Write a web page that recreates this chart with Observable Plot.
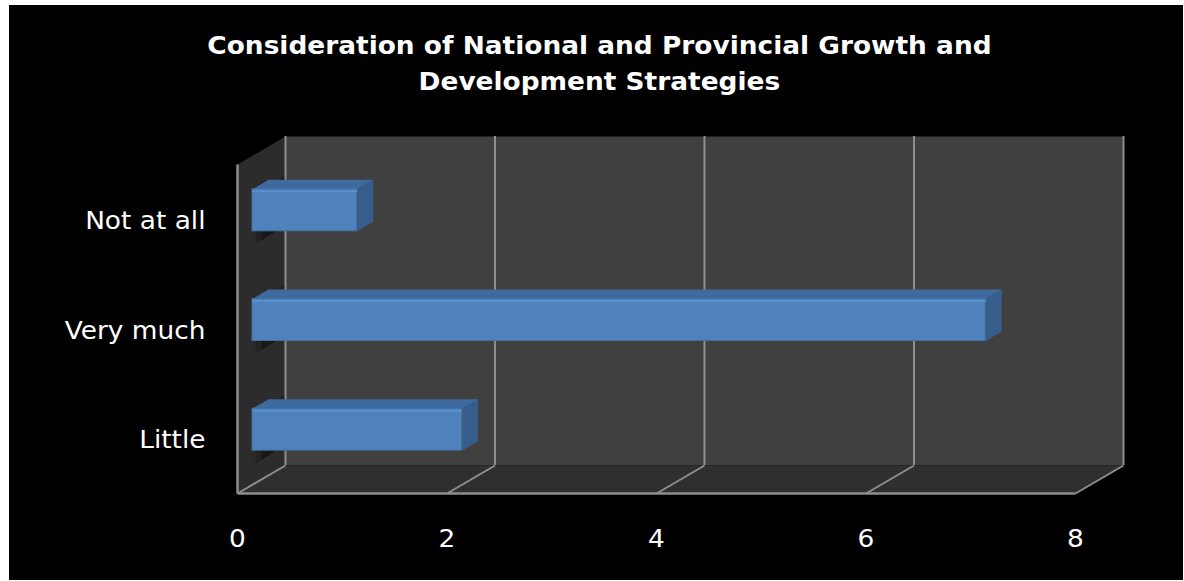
<!DOCTYPE html>
<html><head><meta charset="utf-8">
<script src="https://cdn.jsdelivr.net/npm/d3@7"></script>
<script src="https://cdn.jsdelivr.net/npm/@observablehq/plot@0.6"></script>
<style>
html,body{margin:0;padding:0;background:#fff;overflow:hidden;}
#frame{position:absolute;left:9px;top:5px;width:1174px;height:575px;background:#000;overflow:hidden;}
#title{height:105px;box-sizing:border-box;padding-top:23px;padding-left:6px;text-align:center;color:#fff;font-family:"DejaVu Sans",sans-serif;font-weight:700;font-size:24px;line-height:36px;}
#title span{display:inline-block;transform:scaleX(1.1);transform-origin:50% 50%;white-space:nowrap;}
#chart svg{display:block;}
</style></head><body>
<div id="frame"><div id="title"></div><div id="chart"></div></div>
<script>
const titleLines = ["Consideration of National and Provincial Growth and", "Development Strategies"];
const categories = ["Not at all", "Very much", "Little"];
const values = [1, 7, 2];
const xTicks = [0, 2, 4, 6, 8];

const titleEl = document.getElementById("title");
titleLines.forEach((t, k) => {
  if (k) titleEl.appendChild(document.createElement("br"));
  const s = document.createElement("span");
  s.textContent = t;
  titleEl.appendChild(s);
});

const W = 1174, H = 470, ML = 276, MR = 60, MT = 26, MB = 115;
const xDomain = [xTicks[0], xTicks[xTicks.length - 1]];
const yDomain = [-0.5, categories.length - 0.5];
const [yTop, yBot] = yDomain;
const kx = (W - ML - MR) / (xDomain[1] - xDomain[0]);
const ky = (H - MT - MB) / (yDomain[1] - yDomain[0]);
// pixel offsets (3-D depth) converted to data units
const off = (x, y, ox, oy) => ({x: x + ox / kx, y: y + oy / ky});
const WALL = [-48, 28], BF = [-33, 19], BB = [-17, 9.5];
const HALF = 21 / ky;

const poly = (pts, fill, extra = {}) =>
  Plot.line([...pts, pts[0]], {x: "x", y: "y", fill, stroke: "none", ...extra});

const rows = categories.map((c, i) => ({c, i, v: values[i]}));

const marks = [];
// back wall
marks.push(poly([{x: xDomain[0], y: yTop}, {x: xDomain[1], y: yTop}, {x: xDomain[1], y: yBot}, {x: xDomain[0], y: yBot}], "#404040"));
// left side wall
marks.push(poly([{x: xDomain[0], y: yTop}, {x: xDomain[0], y: yBot}, off(xDomain[0], yBot, ...WALL), off(xDomain[0], yTop, ...WALL)], "#2c2c2c"));
// floor
marks.push(poly([{x: xDomain[0], y: yBot}, {x: xDomain[1], y: yBot}, off(xDomain[1], yBot, ...WALL), off(xDomain[0], yBot, ...WALL)], "#2f2f2f"));
// soft shadows of bars on the side wall
rows.forEach(d => {
  marks.push(poly([off(xDomain[0], d.i - HALF, 0, 4), off(xDomain[0], d.i + HALF, 0, 12), off(xDomain[0], d.i + HALF, -30, 32), off(xDomain[0], d.i - HALF, -30, 24)], "#121212", {fillOpacity: 0.35}));
  marks.push(poly([off(xDomain[0], d.i - HALF, -4, 10), off(xDomain[0], d.i + HALF, -4, 16), off(xDomain[0], d.i + HALF, -24, 28), off(xDomain[0], d.i - HALF, -24, 22)], "#0e0e0e", {fillOpacity: 0.45}));
});
// gridlines on back wall
marks.push(Plot.ruleX(xTicks, {x: d => d, y1: yTop, y2: yBot, stroke: "#8e8e8e", strokeWidth: 2}));
// gridlines on floor
marks.push(Plot.link(xTicks, {x1: d => d, y1: yBot, x2: d => off(d, yBot, ...WALL).x, y2: d => off(d, yBot, ...WALL).y, stroke: "#8e8e8e", strokeWidth: 2}));
// floor front edge
marks.push(Plot.link([0], {x1: () => off(xDomain[0], yBot, ...WALL).x, y1: () => off(xDomain[0], yBot, ...WALL).y, x2: () => off(xDomain[1], yBot, ...WALL).x, y2: () => off(xDomain[1], yBot, ...WALL).y, stroke: "#8e8e8e", strokeWidth: 2.5}));
// side wall front edge
marks.push(Plot.link([0], {x1: () => off(xDomain[0], yTop, ...WALL).x, y1: () => off(xDomain[0], yTop, ...WALL).y, x2: () => off(xDomain[0], yBot, ...WALL).x, y2: () => off(xDomain[0], yBot, ...WALL).y, stroke: "#8e8e8e", strokeWidth: 2.5}));

// bars
rows.forEach(d => {
  // top face
  marks.push(poly([off(0, d.i - HALF, ...BF), off(d.v, d.i - HALF, ...BF), off(d.v, d.i - HALF, ...BB), off(0, d.i - HALF, ...BB)], "#3f6a9f"));
  // end face
  marks.push(poly([off(d.v, d.i - HALF, ...BF), off(d.v, d.i - HALF, ...BB), off(d.v, d.i + HALF, ...BB), off(d.v, d.i + HALF, ...BF)], "#365d8c"));
});
// front faces
marks.push(Plot.rect(rows, {x1: 0, x2: "v", y1: d => d.i - HALF, y2: d => d.i + HALF, dx: BF[0], dy: BF[1], fill: "#4f81bd", stroke: "#41709f", strokeWidth: 1}));
marks.push(Plot.link(rows, {x1: 0, x2: "v", y1: d => d.i - HALF, y2: d => d.i - HALF, dx: BF[0], dy: BF[1] + 2, stroke: "#5b8fcd", strokeWidth: 2}));

// axes
marks.push(Plot.axisY({ticks: categories.map((c, i) => i), tickFormat: i => categories[i], tickSize: 0, tickPadding: 80, dy: 30, fontSize: 24, label: null}));
marks.push(Plot.axisX({ticks: xTicks, tickFormat: d => String(d), tickSize: 0, tickPadding: 64, dx: WALL[0], fontSize: 24, label: null}));

const chart = Plot.plot({
  width: W, height: H,
  marginLeft: ML, marginRight: MR, marginTop: MT, marginBottom: MB,
  x: {domain: xDomain},
  y: {domain: yDomain, reverse: true},
  style: {background: "#000", color: "#fff", fontFamily: "'DejaVu Sans', sans-serif"},
  marks
});
// widen the tick label glyphs slightly (text style only)
const isNum = v => v != null && /^-?[\d.]+$/.test(v);
d3.select(chart).selectAll("g[aria-label*='tick label'] text").each(function() {
  const el = d3.select(this);
  let x = 0, y = 0;
  if (isNum(el.attr("x"))) { x = +el.attr("x"); el.attr("x", null); }
  if (isNum(el.attr("y"))) { y = +el.attr("y"); el.attr("y", null); }
  const t = el.attr("transform") || "";
  el.attr("transform", `${t} translate(${x},${y}) scale(1.1,1)`);
});
document.getElementById("chart").appendChild(chart);
</script>
</body></html>
